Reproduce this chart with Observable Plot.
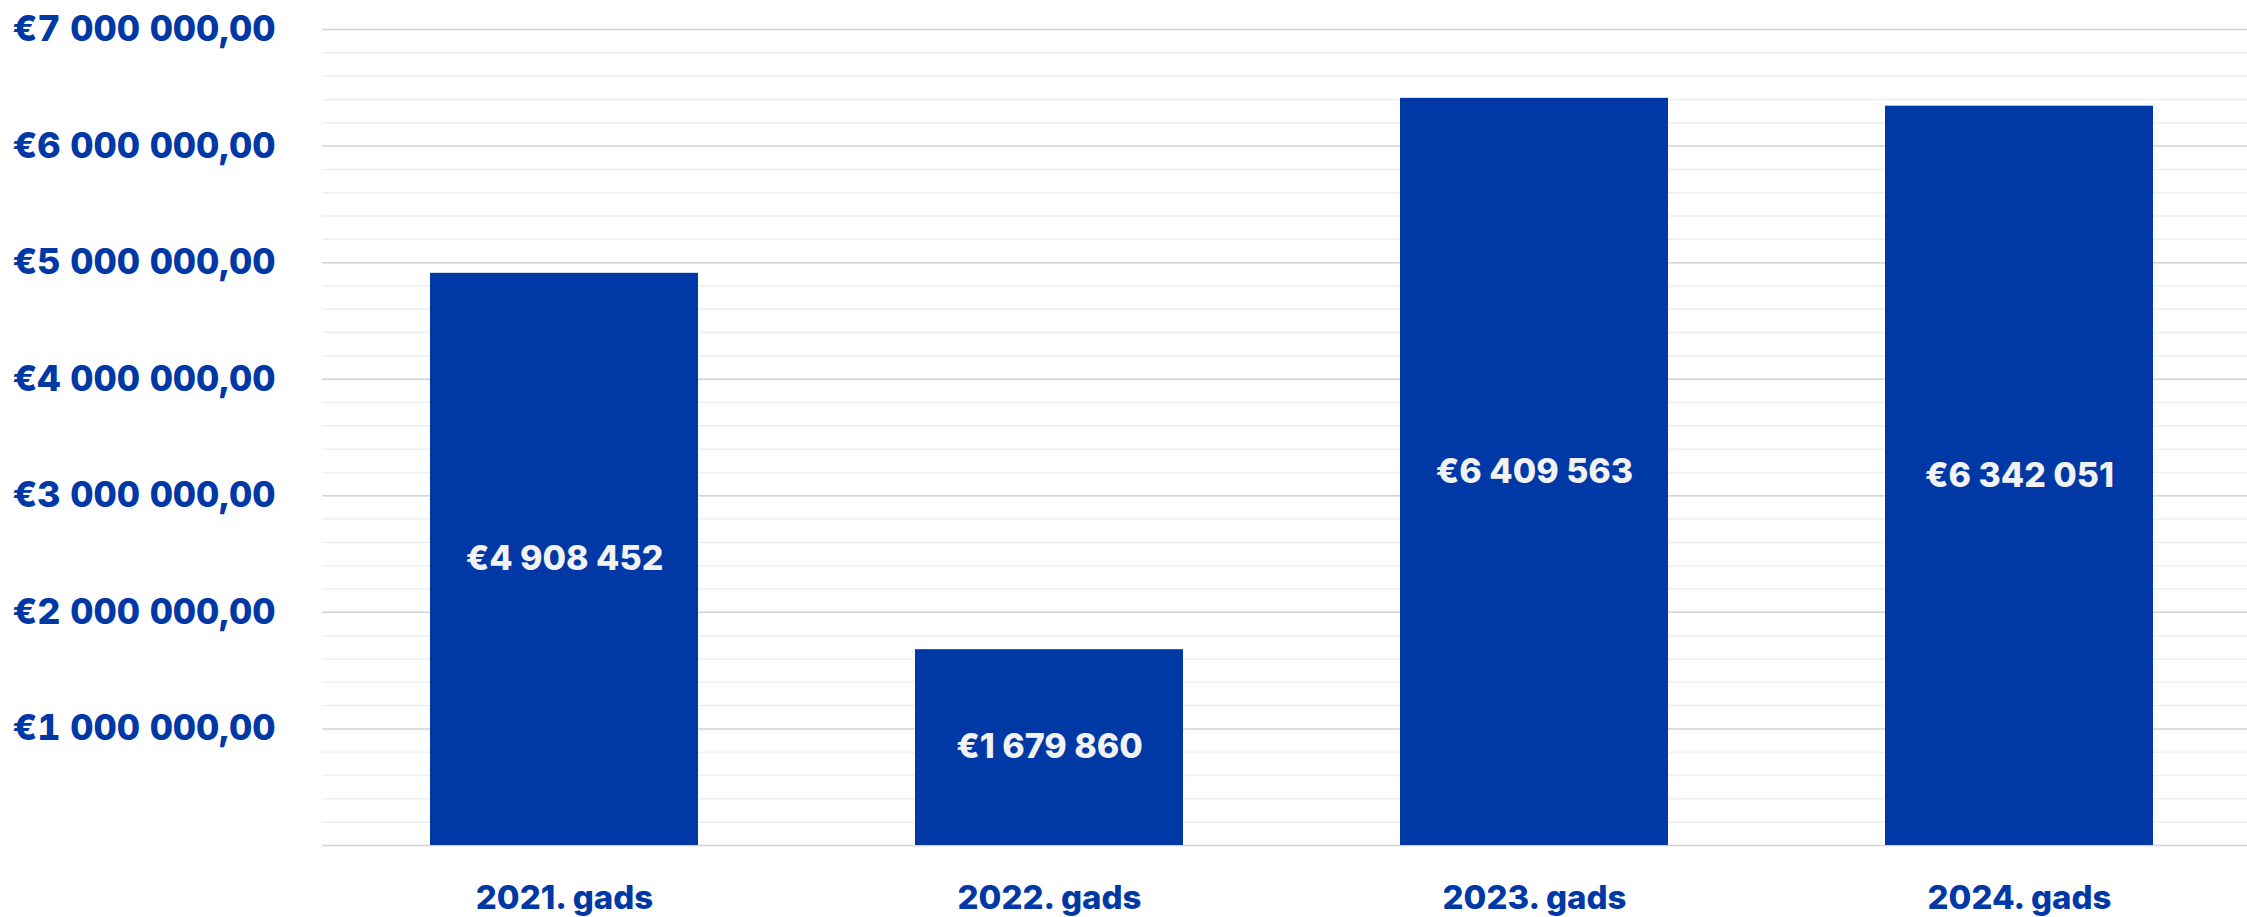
<!DOCTYPE html>
<html>
<head>
<meta charset="utf-8">
<script src="https://cdn.jsdelivr.net/npm/d3@7"></script>
<script src="https://cdn.jsdelivr.net/npm/@observablehq/plot@0.6"></script>
<style>
  html, body { margin: 0; padding: 0; background: #ffffff; }
  #chart svg { display: block; }
</style>
</head>
<body>
<div id="chart"></div>
<script>
const years = ["2021. gads", "2022. gads", "2023. gads", "2024. gads"];
const values = [4908452, 1679860, 6409563, 6342051];
const majorTicks = [0, 1000000, 2000000, 3000000, 4000000, 5000000, 6000000, 7000000];
const labelTicks = [1000000, 2000000, 3000000, 4000000, 5000000, 6000000, 7000000];
const minorTicks = d3.range(0, 7000001, 200000);

const data = years.map((year, i) => ({year, value: values[i]}));
const spaced = v => d3.format(",")(v).replace(/,/g, " ");
const valueLabel = v => "€" + spaced(v);
const tickLabel = v => "€" + spaced(v) + ",00";

const blue = "#0038a6";
const font = "Inter, Lato, sans-serif";

const chart = Plot.plot({
  width: 2247,
  height: 917,
  marginLeft: 322,
  marginRight: 0,
  marginTop: 29,
  marginBottom: 72,
  style: {fontFamily: font, background: "#ffffff", overflow: "visible"},
  x: {domain: years, range: [322, 2262], paddingInner: 0.447, paddingOuter: 0.2235, label: null},
  y: {domain: [0, 7000000], label: null},
  marks: [
    Plot.ruleY(minorTicks, {stroke: "#efefef", strokeWidth: 1.5}),
    Plot.ruleY(majorTicks, {stroke: "#d6d6d6", strokeWidth: 1.5}),
    Plot.barY(data, {x: "year", y: "value", fill: blue}),
    Plot.text(data, {
      x: "year",
      y: d => d.value / 2,
      text: d => valueLabel(d.value),
      fill: "#f2f2f2",
      fontSize: 34,
      fontWeight: 800
    }),
    Plot.axisY({
      ticks: labelTicks,
      tickFormat: tickLabel,
      tickSize: 0,
      tickPadding: 47,
      fontSize: 36,
      fontWeight: 800,
      fill: blue,
      label: null
    }),
    Plot.axisX({
      tickSize: 0,
      tickPadding: 40,
      fontSize: 33,
      fontWeight: 800,
      fill: blue,
      label: null
    })
  ]
});
document.getElementById("chart").appendChild(chart);
</script>
</body>
</html>
